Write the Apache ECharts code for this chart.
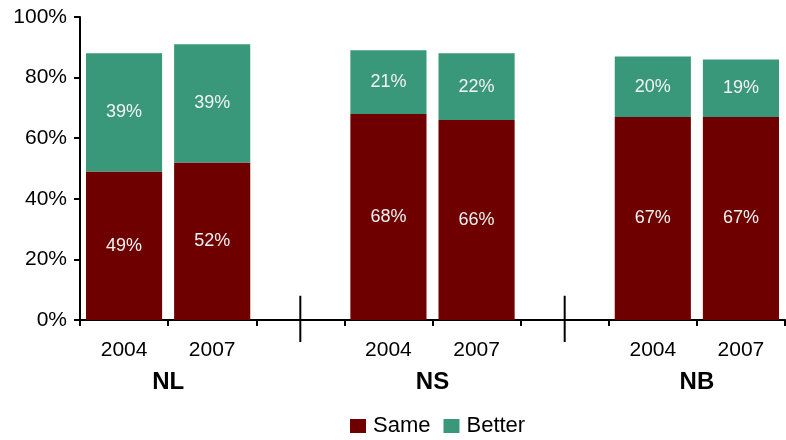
<!DOCTYPE html>
<html>
<head>
<meta charset="utf-8">
<script src="https://cdn.jsdelivr.net/npm/echarts@6/dist/echarts.min.js"></script>
<style>
  html, body { margin: 0; padding: 0; background: #fff; }
  #chart { width: 786px; height: 440px; }
</style>
</head>
<body>
<div id="chart"></div>
<script>
// Year slots, with empty slots separating the three regions
const years = ['2004', '2007', '', '2004', '2007', '', '2004', '2007'];
const regions = ['NL', 'NS', 'NB'];
// Index pairs of year slots under each region, and the empty separator slots
const regionSlots = [[0, 1], [3, 4], [6, 7]];
const separatorSlots = [2, 5];
const same = [49, 52, null, 68, 66, null, 67, 67];
const better = [39, 39, null, 21, 22, null, 20, 19];
const yTicks = [0, 20, 40, 60, 80, 100];

const FONT = '"Liberation Sans", Arial, Helvetica, sans-serif';
const chart = echarts.init(document.getElementById('chart'));

const barLabel = {
  show: true,
  position: 'inside',
  color: '#f2f2f2',
  fontFamily: FONT,
  fontSize: 18,
  formatter: p => p.value + '%'
};

chart.setOption({
  animation: false,
  textStyle: { fontFamily: FONT },
  grid: { left: 80, right: 1, top: 17, bottom: 120, containLabel: false },
  legend: {
    data: ['Same', 'Better'],
    top: 410,
    left: 345,
    itemWidth: 16,
    itemHeight: 14,
    itemGap: 13,
    icon: 'rect',
    textStyle: { fontFamily: FONT, fontSize: 22, color: '#000', padding: [0, 0, 0, 2] }
  },
  xAxis: {
    type: 'category',
    data: years,
    axisLine: { lineStyle: { color: '#000', width: 2 } },
    axisTick: { show: true, interval: 0, length: 6, lineStyle: { color: '#000', width: 2 } },
    axisLabel: { interval: 0, color: '#000', fontSize: 21, margin: 20 }
  },
  yAxis: {
    type: 'value',
    min: yTicks[0],
    max: yTicks[yTicks.length - 1],
    interval: yTicks[1] - yTicks[0],
    splitLine: { show: false },
    axisLine: { show: true, lineStyle: { color: '#000', width: 2 } },
    axisTick: { show: true, length: 6, lineStyle: { color: '#000', width: 2 } },
    axisLabel: { color: '#000', fontSize: 21, margin: 13, formatter: '{value}%' }
  },
  series: [
    {
      name: 'Same',
      type: 'bar',
      stack: 'total',
      data: same,
      barCategoryGap: '13.6%',
      itemStyle: { color: '#6e0000' },
      label: barLabel
    },
    {
      name: 'Better',
      type: 'bar',
      stack: 'total',
      data: better,
      barCategoryGap: '13.6%',
      itemStyle: { color: '#3a987a' },
      label: barLabel
    }
  ]
});

// Region names under each pair of years, and vertical separators between regions
function drawDecorations() {
  const axisY = chart.convertToPixel({ yAxisIndex: 0 }, 0);
  const elements = [];
  regionSlots.forEach((pair, i) => {
    const x0 = chart.convertToPixel({ xAxisIndex: 0 }, pair[0]);
    const x1 = chart.convertToPixel({ xAxisIndex: 0 }, pair[1]);
    elements.push({
      type: 'text',
      x: (x0 + x1) / 2,
      y: axisY + 62,
      style: {
        text: regions[i],
        fill: '#000',
        font: 'bold 24px ' + FONT,
        textAlign: 'center',
        textVerticalAlign: 'middle'
      }
    });
  });
  separatorSlots.forEach(slot => {
    const x = chart.convertToPixel({ xAxisIndex: 0 }, slot);
    const top = chart.convertToPixel({ yAxisIndex: 0 }, 8);
    elements.push({
      type: 'line',
      shape: { x1: x, y1: top, x2: x, y2: axisY + 22 },
      style: { stroke: '#000', lineWidth: 2 }
    });
  });
  chart.setOption({ graphic: elements });
}
drawDecorations();
</script>
</body>
</html>
